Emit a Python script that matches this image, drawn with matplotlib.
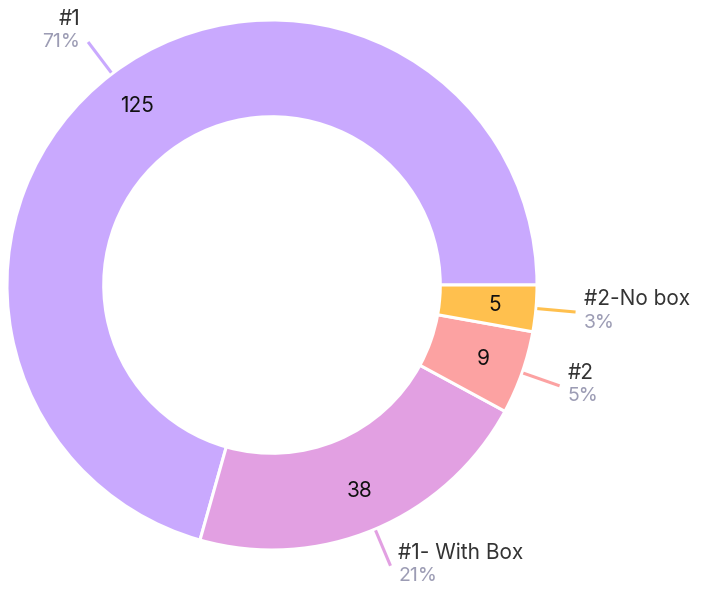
import numpy as np
import matplotlib
matplotlib.use("Agg")
import matplotlib.pyplot as plt

plt.rcParams['font.family'] = ['Inter', 'DejaVu Sans']

# данные
labels = ["#1", "#1- With Box", "#2", "#2-No box"]
values = [125, 38, 9, 5]
colors = ["#C9A9FE", "#E2A0E2", "#FCA2A2", "#FFC04E"]

total = sum(values)
pcts = [round(v / total * 100) for v in values]

fig = plt.figure(figsize=(7.06, 5.96), dpi=100)
ax = fig.add_axes([0, 0, 1, 1])

R = 1.0
W = 0.365
wedges, _ = ax.pie(values, colors=colors, startangle=0, counterclock=True,
                   radius=R, wedgeprops=dict(width=W, edgecolor="white", linewidth=2.2))

for i, w in enumerate(wedges):
    ang = np.deg2rad((w.theta1 + w.theta2) / 2)
    c, s = np.cos(ang), np.sin(ang)
    # значение внутри кольца
    ax.text(0.845 * c, 0.845 * s, str(values[i]), ha="center", va="center",
            fontsize=15, color="#111111")
    # выноска
    ax.plot([1.005 * c, 1.15 * c], [1.005 * s, 1.15 * s], color=colors[i],
            lw=2.2, solid_capstyle="butt")
    ex, ey = 1.15 * c, 1.15 * s
    if c < 0:
        ha = "right"
        tx = ex - 0.03
    else:
        ha = "left"
        tx = ex + 0.03
    if s > 0.5:
        ny, py = ey + 0.088, ey + 0.0
    else:
        ny, py = ey + 0.048, ey - 0.04
    ax.text(tx, ny, labels[i], ha=ha, va="center", fontsize=15, color="#333333")
    ax.text(tx, py, f"{pcts[i]}%", ha=ha, va="center", fontsize=14, color="#9C9CB4")

ax.set_xlim(-272 / 265, (706 - 272) / 265)
ax.set_ylim(-(596 - 285) / 265, 285 / 265)
ax.set_aspect("auto")
ax.axis("off")

fig.savefig("out.png", dpi=100)
